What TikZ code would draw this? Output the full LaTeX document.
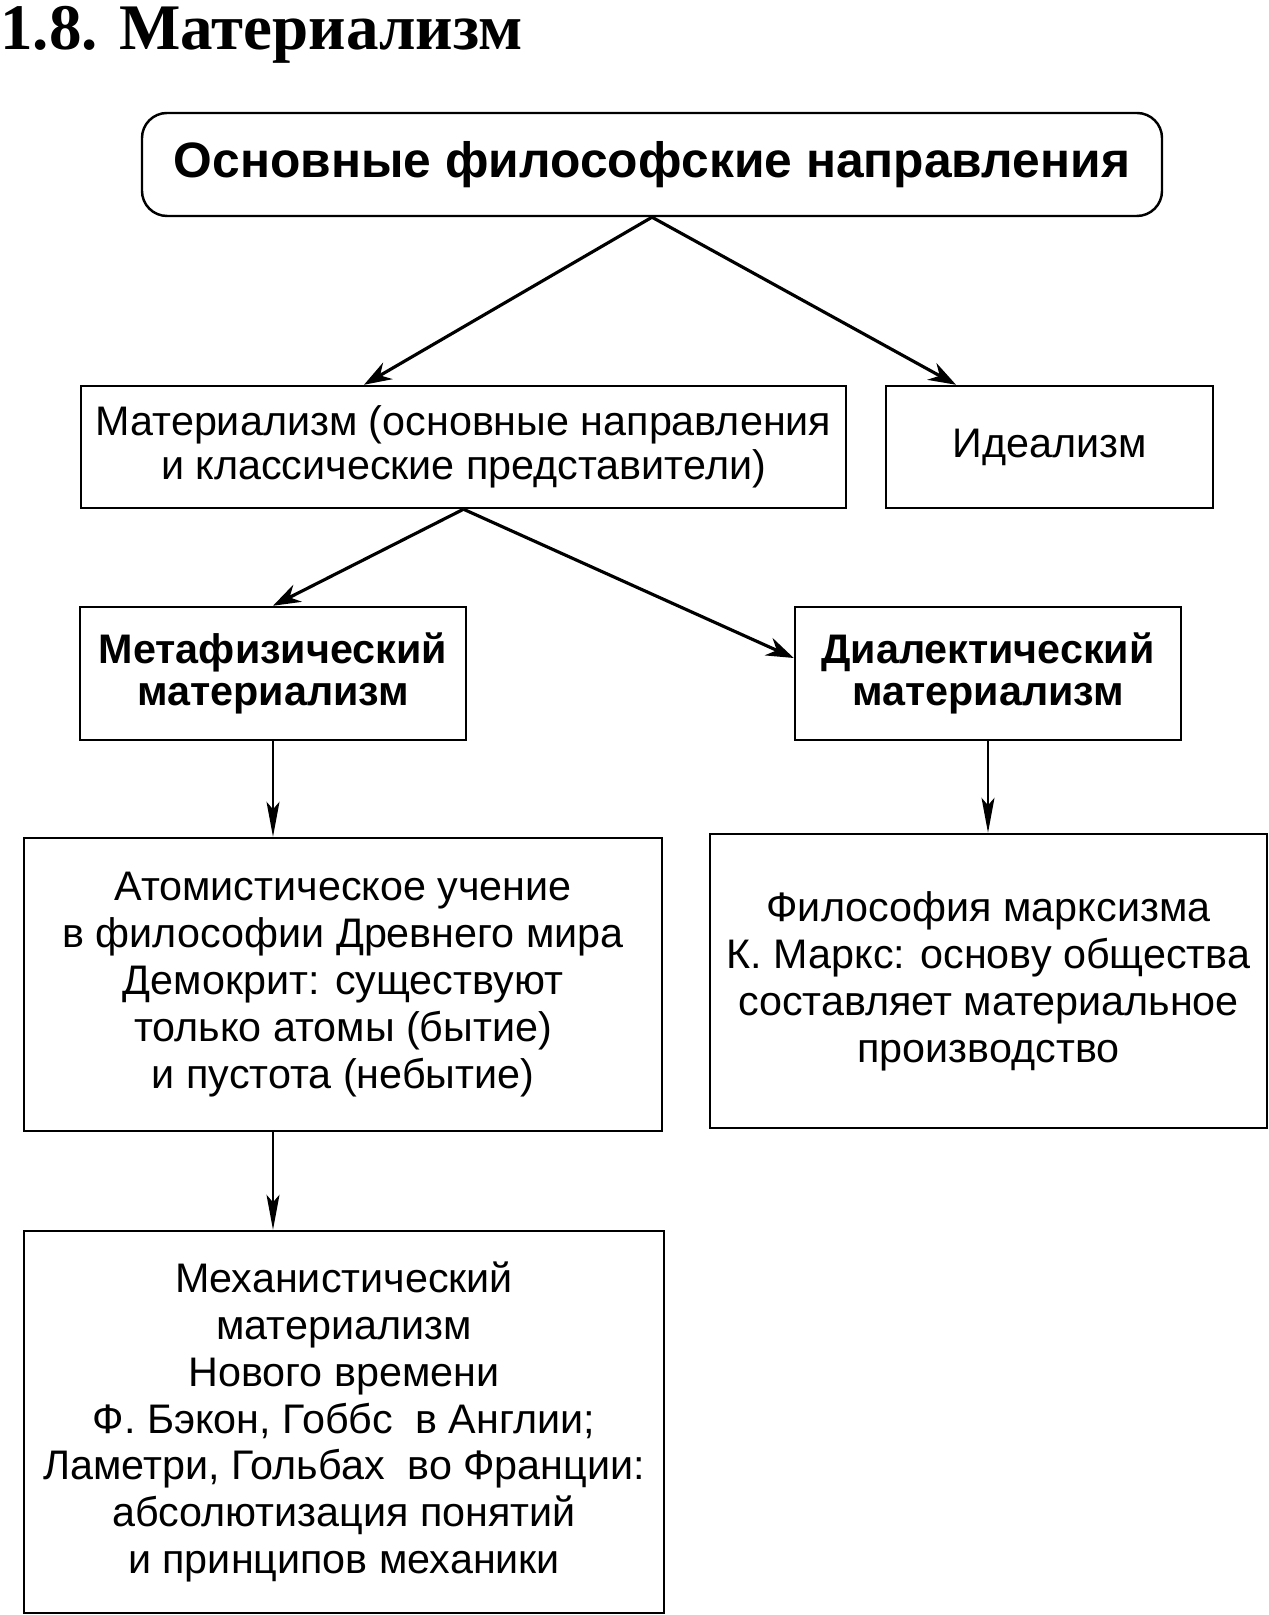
\documentclass[tikz,border=0pt]{standalone}
\usepackage{fontspec}
\setmainfont{Liberation Sans}
\newfontfamily\titlefont{Liberation Serif}
\usetikzlibrary{arrows.meta}

\newcommand{\boxfont}{\fontsize{23.5}{26.7}\selectfont}
\newcommand{\headfont}{\bfseries\fontsize{28.3}{32}\selectfont}

\tikzset{
  box/.style={draw, line width=1.4pt, inner sep=0pt, align=center, font=\boxfont},
  boldbox/.style={box, font=\bfseries\fontsize{23.5}{23.5}\selectfont},
  boldarrow/.style={-{Stealth[length=0.55cm,width=0.38cm]}, line width=1.8pt},
  thinarrow/.style={-{Stealth[length=0.7cm,width=0.26cm,inset=0.15cm]}, line width=0.9pt},
}

\begin{document}
\begin{tikzpicture}
\useasboundingbox (0,0) rectangle (25.38,32.3);

%% title
\node [anchor=base west, inner sep=0pt, font=\titlefont\bfseries\fontsize{37}{44}\selectfont] (title) at (0,31.3)
  {1.8. Материализм};

%% top level
\node [box, rounded corners=0.5cm, minimum width=20.4cm, minimum height=2.06cm, font=\headfont] (top) at (13.04,29.01)
  {Основные философские направления};

%% second level
\node [box, minimum width=15.3cm, minimum height=2.44cm, font=\fontsize{23.5}{25}\selectfont] (mat) at (9.27,23.36)
  {Материализм (основные направления\\ и классические представители)};
\node [box, minimum width=6.54cm, minimum height=2.44cm] (ideal) at (20.99,23.36)
  {Идеализм};

%% third level
\node [boldbox, minimum width=7.72cm, minimum height=2.66cm] (meta) at (5.46,18.83)
  {Метафизический\\ материализм};
\node [boldbox, minimum width=7.72cm, minimum height=2.66cm] (dial) at (19.76,18.83)
  {Диалектический\\ материализм};

%% fourth level
\node [box, minimum width=12.76cm, minimum height=5.86cm] (atom) at (6.86,12.61)
  {Атомистическое учение\\ в философии Древнего мира\\ Демокрит: существуют\\
   только атомы (бытие)\\ и пустота (небытие)};
\node [box, minimum width=11.14cm, minimum height=5.88cm] (marx) at (19.77,12.68)
  {Философия марксизма\\ К. Маркс: основу общества\\ составляет материальное\\ производство};

%% fifth level
\node [box, minimum width=12.8cm, minimum height=7.64cm] (mech) at (6.88,3.86)
  {Механистический\\ материализм\\ Нового времени\\ Ф. Бэкон, Гоббс\ \ в Англии;\\
   Ламетри, Гольбах\ \ во Франции:\\ абсолютизация понятий\\ и принципов механики};

%% arrows
% diagonal
\draw [boldarrow] (top.south) -- ([xshift=-1.99cm]mat.north);
\draw [boldarrow] (top.south) -- ([xshift=-1.87cm]ideal.north);
\draw [boldarrow] (mat.south) -- (meta.north);
\draw [boldarrow] (mat.south) -- ([yshift=0.31cm]dial.west);
% vertical
\draw [thinarrow] (meta.south) -- (meta.south |- atom.north);
\draw [thinarrow] (dial.south) -- (dial.south |- marx.north);
\draw [thinarrow] ([xshift=-1.4cm]atom.south) -- ([xshift=-1.4cm]atom.south |- mech.north);

\end{tikzpicture}
\end{document}
